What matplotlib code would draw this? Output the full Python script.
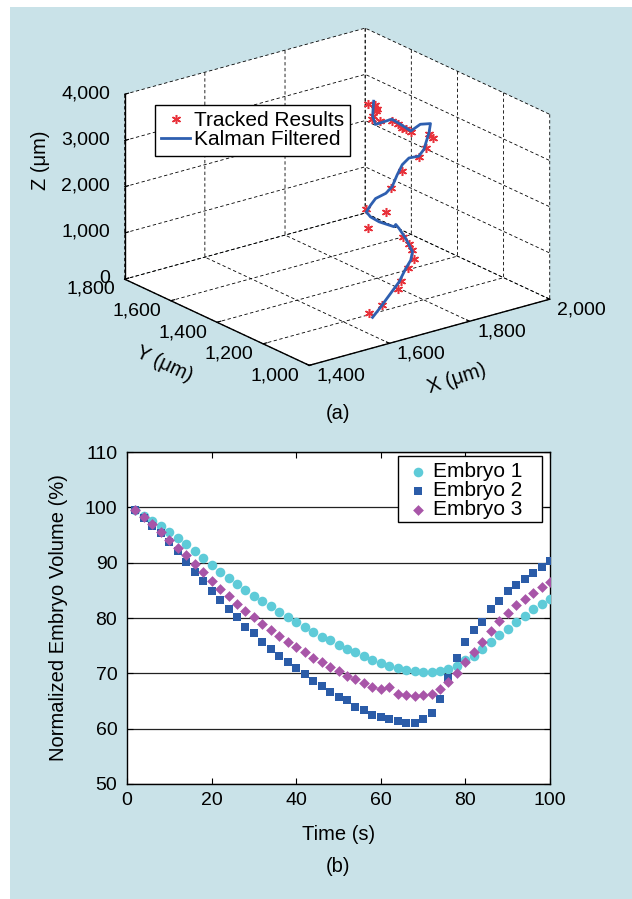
import matplotlib.pyplot as plt
import numpy as np
from matplotlib.patches import Rectangle
from matplotlib.ticker import FuncFormatter

plt.rcParams['font.family'] = ['Liberation Sans', 'DejaVu Sans']

# (a) embryo track in micrometres: raw tracked points and the Kalman filtered path
track_x = [1619, 1661, 1710, 1716, 1740, 1762, 1764, 1762, 1757, 1699, 1754, 1706, 1793, 1833, 1887,
           1910, 1935, 1924, 1897, 1889, 1883, 1874, 1864, 1840, 1820, 1825, 1837, 1841, 1841, 1823]
track_y = [1120, 1136, 1152, 1152, 1164, 1174, 1186, 1196, 1212, 1264, 1284, 1284, 1328, 1349, 1371,
           1382, 1392, 1392, 1424, 1432, 1436, 1440, 1448, 1456, 1458, 1464, 1468, 1472, 1480, 1480]
track_z = [329, 368, 563, 710, 922, 1028, 1192, 1316, 1435, 1650, 1817, 2000, 2130, 2352, 2484,
           2602, 2737, 2836, 2875, 2933, 2973, 3057, 3132, 3185, 3268, 3294, 3366, 3385, 3458, 3516]

kalman_x = [1627, 1650, 1681, 1712, 1735, 1754, 1764, 1762, 1760, 1758, 1756, 1754, 1756, 1725, 1710, 1706, 1723,
            1741, 1773, 1795, 1814, 1833, 1856, 1887, 1906, 1925, 1935, 1916, 1898, 1879, 1863, 1829, 1828, 1837]
kalman_y = [1120, 1131, 1142, 1153, 1164, 1175, 1185, 1196, 1207, 1218, 1229, 1240, 1251, 1262, 1273, 1284, 1295,
            1305, 1316, 1327, 1338, 1349, 1360, 1371, 1382, 1393, 1404, 1415, 1425, 1436, 1447, 1458, 1469, 1480]
kalman_z = [217, 319, 511, 702, 911, 1025, 1156, 1280, 1402, 1490, 1578, 1644, 1565, 1720, 1836, 1928, 2010,
            2085, 2096, 2163, 2348, 2496, 2560, 2500, 2577, 2867, 3013, 3018, 2892, 3054, 3180, 3120, 3275, 3554]

# (b) normalized embryo volume (%) over time (s)
time_s = list(range(2, 101, 2))
embryo1 = [99.6, 98.5, 97.6, 96.7, 95.6, 94.5, 93.3, 92.1, 90.8, 89.6,
           88.3, 87.3, 86.2, 85.1, 84.0, 83.0, 82.1, 81.1, 80.2, 79.2,
           78.4, 77.5, 76.6, 76.0, 75.2, 74.4, 73.8, 73.1, 72.4, 71.9,
           71.4, 70.9, 70.6, 70.5, 70.3, 70.3, 70.5, 70.7, 71.4, 72.4,
           73.2, 74.4, 75.6, 76.9, 78.1, 79.3, 80.4, 81.6, 82.5, 83.4]
embryo2 = [99.6, 98.0, 96.7, 95.3, 93.8, 92.1, 90.2, 88.4, 86.7, 84.9,
           83.3, 81.7, 80.1, 78.4, 77.2, 75.7, 74.4, 73.2, 72.0, 71.0,
           69.9, 68.7, 67.7, 66.6, 65.7, 65.1, 64.0, 63.3, 62.5, 62.1,
           61.8, 61.3, 61.1, 61.0, 61.8, 62.8, 65.4, 69.2, 72.7, 75.7,
           77.9, 79.3, 81.7, 83.1, 84.9, 85.9, 87.0, 88.2, 89.2, 90.3]
embryo3 = [99.6, 98.2, 97.0, 95.6, 94.1, 92.7, 91.4, 89.7, 88.3, 86.7,
           85.3, 83.9, 82.6, 81.2, 80.1, 78.9, 77.8, 76.7, 75.7, 74.7,
           73.8, 72.8, 72.1, 71.2, 70.4, 69.6, 69.0, 68.2, 67.6, 67.1,
           67.6, 66.3, 66.0, 65.9, 66.0, 66.2, 67.1, 68.4, 70.0, 72.0,
           73.9, 75.7, 77.6, 79.4, 80.9, 82.4, 83.5, 84.6, 85.6, 86.5]

W, H = 632, 899
fig = plt.figure(figsize=(W / 100, H / 100), dpi=100)
fig.patch.set_facecolor('white')
# light blue panel behind both plots
fig.patches.append(Rectangle((10 / W, 0), 1, 1 - 7 / H, transform=fig.transFigure,
                             facecolor='#c9e2e8', edgecolor='none', zorder=-10))

thousands = FuncFormatter(lambda v, p: f'{v:,.0f}')
fs_tick = 14
fs_lab = 14.5
fs_leg = 15

# ---------- (a) 3D track ----------
ax = fig.add_axes([31.5 / W, 0.5398, 600 / W, 0.47], projection='3d')
ax.set_facecolor((0, 0, 0, 0))
ax.set_proj_type('ortho')
ax.view_init(elev=21, azim=-127.5)
ax.set_box_aspect((3, 3, 1.96), zoom=1.085)

ax.plot(track_x, track_y, track_z, linestyle='none', marker=(6, 2, 0), markersize=6.5,
        color='#e8313a', markeredgewidth=1.1, label='Tracked Results')
ax.plot(kalman_x, kalman_y, kalman_z, color='#2e5fb0', linewidth=2, label='Kalman Filtered')

ax.set_xlim(1400, 2000)
ax.set_ylim(1000, 1800)
ax.set_zlim(0, 4000)
ax.set_xticks([1400, 1600, 1800, 2000])
ax.set_yticks([1000, 1200, 1400, 1600, 1800])
ax.set_zticks([0, 1000, 2000, 3000, 4000])

# solid right-hand vertical edge of the box
x0, x1 = ax.get_xlim()
y0, y1 = ax.get_ylim()
z0, z1 = ax.get_zlim()
ax.plot([x1, x1], [y0, y0], [z0, z1], color='k', linewidth=1)

for axis in (ax.xaxis, ax.yaxis, ax.zaxis):
    axis.set_major_formatter(thousands)
    axis.set_pane_color((1, 1, 1, 1))
    axis.pane.set_edgecolor('none')
    axis._axinfo['grid'].update(color='k', linewidth=0.6, linestyle=(0, (4, 3)))
    axis._axinfo['tick']['inward_factor'] = 0
    axis._axinfo['tick']['outward_factor'] = 0.2
    axis.line.set_color('k')
    axis.line.set_linewidth(1)
ax.tick_params(labelsize=fs_tick)
ax.xaxis.set_tick_params(pad=-1.6)
ax.yaxis.set_tick_params(pad=-1.5)
ax.zaxis.set_tick_params(pad=-2.6)
for t in ax.xaxis.get_major_ticks():
    t.label1.set_ha('left')
    t.label1.set_va('center')
for t in ax.yaxis.get_major_ticks():
    t.label1.set_ha('right')
    t.label1.set_va('center')
for t in ax.zaxis.get_major_ticks():
    t.label1.set_ha('right')
    t.label1.set_va('center')

# axis titles placed like the original (MATLAB style)
fig.text(40 / W, 1 - 160 / H, 'Z (μm)', rotation=90, ha='center', va='center', fontsize=fs_lab)
fig.text(164 / W, 1 - 364 / H, 'Y (μm)', rotation=-25, ha='center', va='center',
         fontsize=fs_lab, rotation_mode='anchor')
fig.text(457 / W, 1 - 379 / H, 'X (μm)', rotation=18, ha='center', va='center',
         fontsize=fs_lab, rotation_mode='anchor')

ax.legend(loc='upper left', bbox_to_anchor=(155 / W, 1 - 105 / H), bbox_transform=fig.transFigure,
          fontsize=fs_leg, frameon=True, fancybox=False, framealpha=1, edgecolor='k',
          borderaxespad=0, borderpad=0.3, labelspacing=0.0, handlelength=1.4, handletextpad=0.15)

fig.text(338 / W, 1 - 413 / H, '(a)', ha='center', va='center', fontsize=fs_lab)

# ---------- (b) volume vs time ----------
bx = fig.add_axes([127 / W, 1 - 784 / H, (550 - 127) / W, (784 - 452) / H])
bx.scatter(time_s, embryo1, s=48, marker='o', color='#5ecbd8', label='Embryo 1', zorder=3, linewidths=0)
bx.scatter(time_s, embryo2, s=27, marker='s', color='#2b5ca8', label='Embryo 2', zorder=3, linewidths=0)
bx.scatter(time_s, embryo3, s=30, marker='D', color='#a855a8', label='Embryo 3', zorder=3, linewidths=0)
bx.set_xlim(0, 100)
bx.set_ylim(50, 110)
bx.set_xticks(range(0, 101, 20))
bx.set_yticks(range(50, 111, 10))
bx.grid(axis='y', color='#222222', linewidth=0.9)
bx.set_axisbelow(True)
bx.tick_params(direction='in', top=True, right=True, length=4, labelsize=fs_tick)
bx.tick_params(axis='x', pad=6)
bx.tick_params(axis='y', pad=7)
for sp in bx.spines.values():
    sp.set_linewidth(1)
bx.set_xlabel('Time (s)', fontsize=fs_lab, labelpad=11)
bx.set_ylabel('Normalized Embryo Volume (%)', fontsize=fs_lab, labelpad=12)

# MATLAB-like legend box (wider than the entries), legend entries drawn on top
bx.add_patch(Rectangle((398 / W, 1 - 522 / H), (542 - 398) / W, (522 - 456) / H,
                       transform=fig.transFigure, facecolor='white', edgecolor='k',
                       linewidth=1, zorder=4, clip_on=False))
bx.legend(loc='upper left', bbox_to_anchor=(398 / W, 1 - 456 / H), bbox_transform=fig.transFigure,
          fontsize=fs_leg, frameon=False, borderaxespad=0, borderpad=0.3, labelspacing=0.0,
          handletextpad=0.1, handlelength=1.3)

fig.text(338 / W, 1 - 866 / H, '(b)', ha='center', va='center', fontsize=fs_lab)

fig.savefig('out.png', dpi=100)
